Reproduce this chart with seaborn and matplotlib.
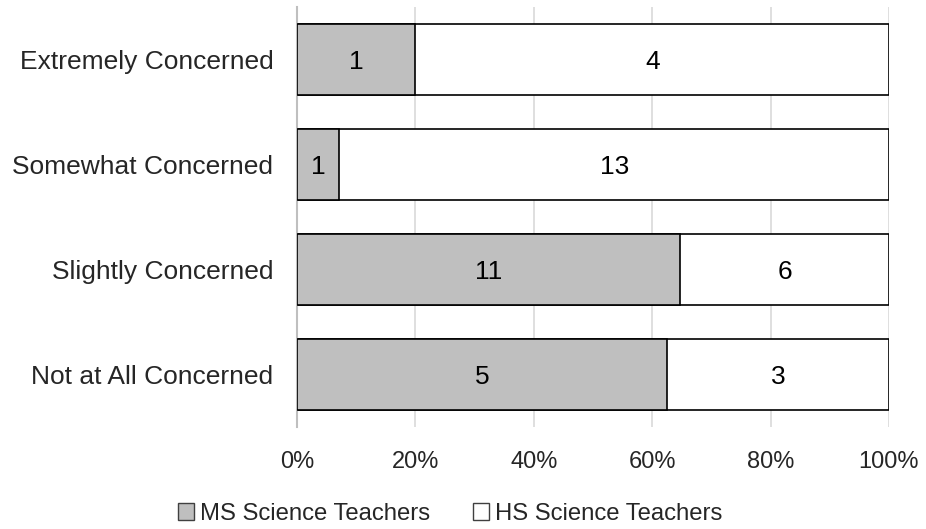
import matplotlib
matplotlib.use("Agg")
import matplotlib.pyplot as plt
from matplotlib.patches import Patch
import seaborn as sns
import pandas as pd
import numpy as np

categories = ["Extremely Concerned", "Somewhat Concerned", "Slightly Concerned", "Not at All Concerned"]
ms_counts = [1, 1, 11, 5]
hs_counts = [4, 13, 6, 3]
series_names = ["MS Science Teachers", "HS Science Teachers"]
x_ticks = [0, 20, 40, 60, 80, 100]

sns.set_theme(style="white")
plt.rcParams['font.family'] = ['Liberation Sans', 'DejaVu Sans']

ms = np.array(ms_counts, dtype=float)
hs = np.array(hs_counts, dtype=float)
tot = ms + hs
df = pd.DataFrame({
    "category": categories,
    "ms_pct": ms / tot * 100,
    "total_pct": (ms + hs) / tot * 100,
    "ms": ms_counts,
    "hs": hs_counts,
})

fig = plt.figure(figsize=(9.26, 5.29), dpi=100)
ax = fig.add_axes([297/926, 1-427/529, (889-297)/926, (427-7)/529])

gray = "#BFBFBF"
sns.barplot(data=df, y="category", x="total_pct", orient="h", color="white",
            edgecolor="black", linewidth=1.2, width=0.667, ax=ax, zorder=2)
sns.barplot(data=df, y="category", x="ms_pct", orient="h", color=gray, saturation=1,
            edgecolor="black", linewidth=1.2, width=0.667, ax=ax, zorder=3)
n = len(categories)
for p in ax.patches[:n]:
    p.set_facecolor("white")
for p in ax.patches[n:]:
    p.set_facecolor(gray)

fs_lab = 19
fs_tick = 17
fs_leg = 17.2
for i, row in df.iterrows():
    ax.text(row["ms_pct"] / 2, i + 0.02, str(row["ms"]), ha="center", va="center", fontsize=fs_lab, color="#000000", zorder=5)
    ax.text((row["ms_pct"] + 100) / 2, i + 0.02, str(row["hs"]), ha="center", va="center", fontsize=fs_lab, color="#000000", zorder=5)

ax.set_xlim(0, 100)
ax.set_ylim(n - 0.5, -0.5)
ax.set_xticks(x_ticks)
ax.set_xticklabels([f"{t}%" for t in x_ticks], fontsize=fs_tick)
ax.set_yticks(range(n))
ax.set_yticklabels(categories, fontsize=fs_lab)
ax.set_xlabel("")
ax.set_ylabel("")
ax.tick_params(axis="x", length=0, pad=17)
ax.tick_params(axis="y", length=0, pad=17)
ax.xaxis.grid(True, color="#D9D9D9", linewidth=1.2, zorder=0)
ax.set_axisbelow(True)
for s in ["top", "right", "bottom"]:
    ax.spines[s].set_visible(False)
ax.spines["left"].set_color("#BFBFBF")
ax.spines["left"].set_linewidth(1.5)

handles = [Patch(facecolor=gray, edgecolor="#404040", linewidth=1.0, label=series_names[0]),
           Patch(facecolor="white", edgecolor="#404040", linewidth=1.0, label=series_names[1])]
fig.legend(handles=handles, loc="center", bbox_to_anchor=(450/926, 1-514/529), ncol=2,
           frameon=False, fontsize=fs_leg, handlelength=0.68, handleheight=0.68,
           handletextpad=0.25, columnspacing=1.8, borderpad=0)

fig.savefig("out.png", dpi=100, facecolor="white")
